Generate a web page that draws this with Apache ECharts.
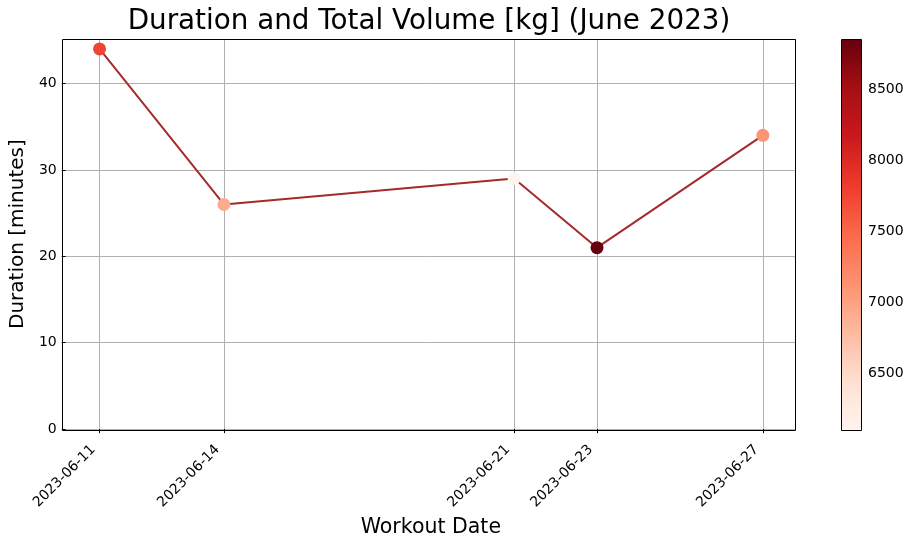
<!DOCTYPE html>
<html><head><meta charset="utf-8">
<script src="https://cdn.jsdelivr.net/npm/echarts@6/dist/echarts.min.js"></script>
<style>html,body{margin:0;padding:0;background:#fff}#c{width:915px;height:543px}</style>
</head><body><div id="c"></div>
<script>
const dates = ['2023-06-11','2023-06-14','2023-06-21','2023-06-23','2023-06-27'];
const durations = [44, 26, 29, 21, 34];
const volumes = [7750, 6920, 6095, 8853, 7100];
const yTicks = [0, 10, 20, 30, 40];
const cbTicks = [6500, 7000, 7500, 8000, 8500];

const FONT = 'DejaVu Sans';
const ts = dates.map(d => Date.parse(d + 'T00:00:00Z'));
const span = ts[ts.length-1] - ts[0];
const xMin = ts[0] - span*0.051, xMax = ts[ts.length-1] + span*0.05;
const vMin = Math.min(...volumes), vMax = Math.max(...volumes);
const reds = ['#fff5f0','#fee0d2','#fcbba1','#fc9272','#fb6a4a','#ef3b2c','#cb181d','#a50f15','#67000d'];

const chart = echarts.init(document.getElementById('c'));
chart.setOption({
  animation:false,
  title:{show:false},
  grid:[
    {left:62, top:39, width:734, height:392, show:false},
    {left:841, top:39, width:21, height:392, show:false}
  ],
  xAxis:[
    {type:'value', gridIndex:0, min:xMin, max:xMax,
      name:'Workout Date', nameLocation:'middle', nameGap:85,
      nameTextStyle:{fontFamily:FONT, fontSize:20.5, color:'#000'},
      axisLine:{show:false},
      axisTick:{show:true, length:4, lineStyle:{color:'#000'}, customValues: ts},
      axisLabel:{fontFamily:FONT, fontSize:14, color:'#000', rotate:45, margin:12, padding:[0,9,0,0], customValues: ts,
        formatter: v => new Date(v).toISOString().slice(0,10)},
      splitLine:{show:true, lineStyle:{color:'#b0b0b0', width:1}}},
    {type:'value', gridIndex:1, show:false, min:0, max:1}
  ],
  yAxis:[
    {type:'value', gridIndex:0, min:0, max:45.15, interval:10,
      name:'Duration [minutes]', nameLocation:'middle', nameGap:37, nameRotate:90,
      nameTextStyle:{fontFamily:FONT, fontSize:20, color:'#000'},
      axisLine:{show:false},
      axisTick:{show:true, length:4, lineStyle:{color:'#000'}},
      axisLabel:{fontFamily:FONT, fontSize:14, color:'#000', margin:9, showMaxLabel:false},
      splitLine:{show:true, lineStyle:{color:'#b0b0b0', width:1}}},
    {type:'value', gridIndex:1, position:'right', min:vMin, max:vMax,
      axisLine:{show:false},
      axisTick:{show:true, length:4, lineStyle:{color:'#000'}, customValues: cbTicks},
      axisLabel:{fontFamily:FONT, fontSize:14, color:'#000', margin:6, customValues: cbTicks,
        formatter: v => String(v)},
      splitLine:{show:false}}
  ],
  visualMap:{type:'continuous', min:vMin, max:vMax, dimension:2, seriesIndex:1,
    inRange:{color:reds}, left:841, top:39, itemWidth:21, itemHeight:392, padding:0,
    calculable:false, text:null, showLabel:false, realtime:false, hoverLink:false},
  series:[
    {type:'line', xAxisIndex:0, yAxisIndex:0, data: ts.map((t,i)=>[t,durations[i]]),
      symbol:'none', lineStyle:{color:'#a52a2a', width:2}, z:2, silent:true},
    {type:'scatter', xAxisIndex:0, yAxisIndex:0, data: ts.map((t,i)=>[t,durations[i],volumes[i]]),
      symbolSize:13, itemStyle:{opacity:1}, z:3, silent:true},
    {type:'line', xAxisIndex:1, yAxisIndex:1, data:[], silent:true}
  ],
  graphic:[
    {type:'text', x:429, y:22, style:{text:'Duration and Total Volume [kg] (June 2023)', fontFamily:FONT, fontSize:27.8,
      fill:'#000', align:'center', verticalAlign:'middle'}, z:100},
    {type:'rect', shape:{x:841.5, y:39.5, width:20, height:391}, style:{fill:'none', stroke:'#000', lineWidth:1}, z:100},
    {type:'rect', shape:{x:62.5, y:39.5, width:733, height:391}, style:{fill:'none', stroke:'#000', lineWidth:1}, z:100}
  ]
});
</script></body></html>
